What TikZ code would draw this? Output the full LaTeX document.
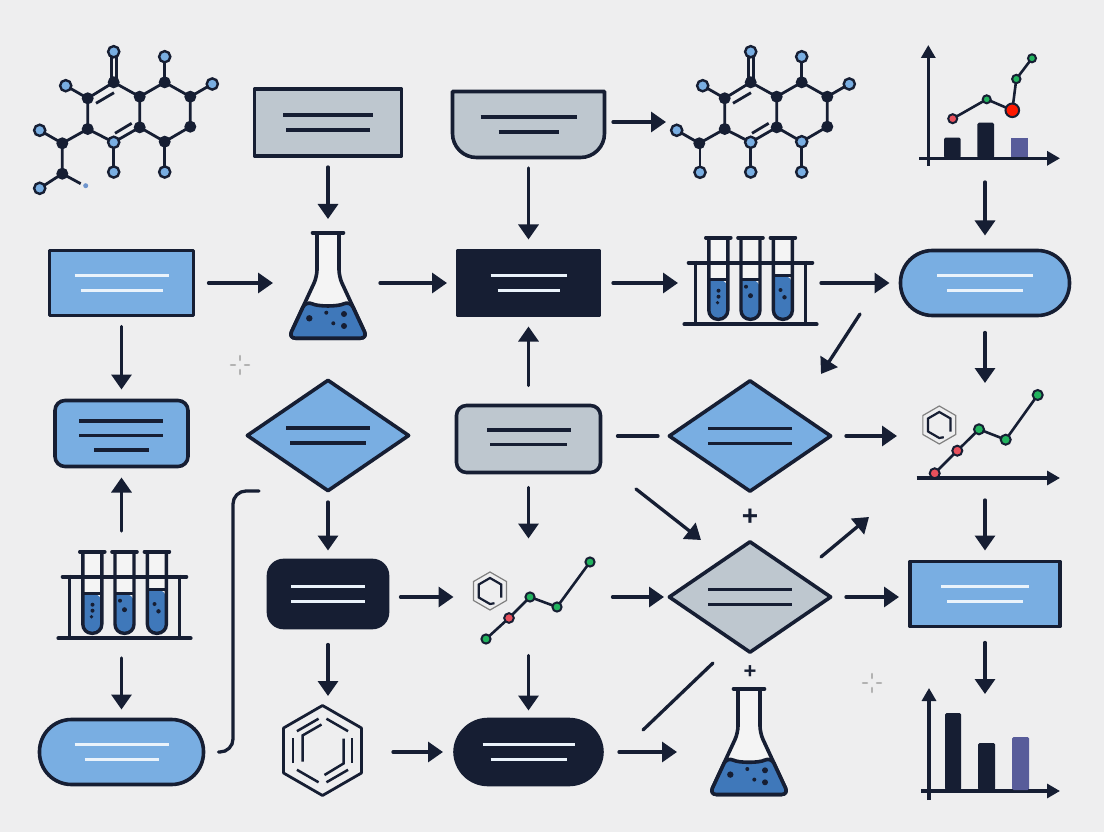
\documentclass[tikz,border=0pt]{standalone}
\usepackage{fontspec}
\setmainfont{Liberation Sans}
\usetikzlibrary{arrows.meta,shapes.geometric}
\definecolor{ink}{HTML}{161E33}
\definecolor{sheet}{HTML}{EEEEEF}
\definecolor{sky}{HTML}{79AEE2}
\definecolor{slate}{HTML}{BEC7CF}
\definecolor{liquid}{HTML}{3F78BA}
\definecolor{violet}{HTML}{585C9A}
\definecolor{glass}{HTML}{F4F4F4}
\definecolor{pale}{HTML}{EAF3FB}
\definecolor{leaf}{HTML}{22B35E}
\definecolor{berry}{HTML}{E8505C}
\tikzset{
  box/.style={rectangle,draw=ink,line width=3.6pt,inner sep=0pt,outer sep=11pt,line join=round},
  gem/.style={diamond,aspect=1.45,draw=ink,line width=3.6pt,inner sep=0pt,outer sep=8pt,line join=round,
    minimum width=168pt,minimum height=117pt},
  spot/.style={inner sep=0pt,outer sep=0pt},
  link/.style={draw=ink,line width=3.3pt,line cap=round,-{Triangle[length=15pt,width=20pt]}},
  wire/.style={draw=ink,line width=3.3pt,line cap=round},
  axis/.style={draw=ink,line width=3.2pt,-{Triangle[length=13pt,width=14pt]}},
  bar/.style={line width=3.8pt},
  bond/.style={draw=ink,line width=2.8pt},
  dark/.style={fill=ink,draw=ink,line width=1.5pt},
  light/.style={fill=sky,draw=ink,line width=2.4pt},
  trend/.style={draw=ink,line width=2.6pt},
  flag/.style={fill=leaf,draw=ink,line width=2pt},
  bad/.style={fill=berry,draw=ink,line width=2pt},
  molecule/.pic={
    \draw[bond] (113.7,82.3) -- (87.7,98.3) -- (87.7,129) -- (113.7,142.3) -- (139.7,127.3)
      -- (139.7,96.7) -- (113.7,82.3);
    \draw[bond] (139.7,96.7) -- (164.7,82.3) -- (190.3,96.7) -- (190.3,126.7) -- (164.7,141.7) -- (139.7,127.3);
    \draw[bond] (96,103.3) -- (114,92.7);
    \draw[bond] (115,133.3) -- (131.7,123.3);
    \draw[bond] (111.2,52) -- (111.2,82);
    \draw[bond] (116.2,52) -- (116.2,82);
    \draw[bond] (164.7,56.7) -- (164.7,82.3);
    \draw[bond] (190.3,96.7) -- (212.3,84);
    \draw[bond] (87.7,98.3) -- (65.7,85.7);
    \draw[bond] (87.7,129) -- (62.3,143.3) -- (39.7,130.3);
    \draw[bond] (113.7,142.3) -- (113.7,172);
    \draw[bond] (164.7,141.7) -- (164.7,172);
    \foreach \x/\y in {113.7/82.3,87.7/98.3,87.7/129,139.7/127.3,139.7/96.7,164.7/82.3,190.3/96.7,190.3/126.7,164.7/141.7,62.3/143.3}
      \draw[dark] (\x,\y) circle (5.2);
    \foreach \x/\y in {113.7/51.7,164.7/56.7,65.7/85.7,212.3/84,39.7/130.3,113.7/172,164.7/172,113.7/142.3}
      \draw[light] (\x,\y) circle (5.6);
  },
  flask/.pic={
    \draw[fill=glass,draw=ink,line width=3.6pt,line join=round,rounded corners=7pt]
      (-11,0) -- (-11,44) -- (-39.5,105.5) -- (39.5,105.5) -- (11,44) -- (11,0);
    \draw[fill=liquid,draw=ink,line width=3.6pt,line join=round,rounded corners=7pt]
      (-39.5,105.5) -- (-22,68) .. controls (-10,74) and (10,74) .. (22,68) -- (39.5,105.5) -- cycle;
    \draw[ink,line width=3.6pt,line cap=round] (-15.5,0) -- (15.5,0);
    \foreach \x/\y/\r in {-18.7/85.6/3.2,-1.7/80/2,16/81.3/3,5.3/90.6/2,16/93.3/3}
      \fill[ink] (\x,\y) circle (\r);
  },
  tubes/.pic={
    \draw[ink,line width=3.6pt] (-55,23) -- (-55,86.6);
    \draw[ink,line width=3.6pt] (55,23) -- (55,86.6);
    \foreach \x/\h in {-32.2/42,0/42,32.4/38} {
      \begin{scope}[xshift=\x]
        \fill[glass] (-9.5,0) -- (-9.5,50) -- (9.5,50) -- (9.5,0) -- cycle;
        \fill[liquid,rounded corners=9pt] (-9.5,\h) -- (-9.5,81.6) -- (9.5,81.6) -- (9.5,\h) [sharp corners] -- cycle;
        \draw[ink,line width=2.5pt] (-9.5,\h) -- (9.5,\h);
        \draw[ink,line width=3.4pt,rounded corners=9pt] (-9.5,0) -- (-9.5,81.6) -- (9.5,81.6) -- (9.5,0);
        \draw[ink,line width=3.6pt,line cap=round] (-12.5,0) -- (12.5,0);
      \end{scope}
    }
    \draw[ink,line width=3.6pt,line cap=round] (-62,25) -- (62,25);
    \draw[ink,line width=4.2pt,line cap=round] (-66,86.6) -- (66,86.6);
    \foreach \x/\y/\r in {-32/53/2,-32/59/2,-33/65/1.8,-4.5/49/2,0/58/2.5,30/52.3/2,34/59.6/2.2}
      \fill[ink] (\x,\y) circle (\r);
  },
  benzene/.pic={
    \draw[ink,line width=2.8pt,line join=round] (90:45) -- (150:45) -- (210:45) -- (270:45) -- (330:45) -- (30:45) -- cycle;
    \foreach \a in {0,60,...,300}
      \draw[ink,line width=2.5pt,rotate=\a] (29.5,-12.5) -- (29.5,12.5);
    \draw[ink,line width=2.5pt] (-20,11) -- (-20,-15) -- (-1,-26);
    \draw[ink,line width=2.5pt] (21,-12) -- (21,13) -- (2,24.5);
  },
  smallring/.pic={
    \draw[gray,line width=1.2pt] (90:19) -- (150:19) -- (210:19) -- (270:19) -- (330:19) -- (30:19) -- cycle;
    \draw[ink,line width=2.2pt] (30:13) -- (-30:13) -- (-90:13) -- (-150:13) -- (150:13) -- (90:13) -- (70:13);
  },
  spark/.pic={
    \foreach \a in {0,90,180,270}
      \draw[black!30,line width=2.6pt,line cap=round,rotate=\a] (5,0) -- (9,0);
  }
}
% box captions are drawn as short strokes
\newcommand{\bars}[4]{
  \draw[#4,bar] ([xshift=-#2 pt,yshift=7.5pt]#1.center) -- ([xshift=#2 pt,yshift=7.5pt]#1.center);
  \draw[#4,bar] ([xshift=-#3 pt,yshift=-7.5pt]#1.center) -- ([xshift=#3 pt,yshift=-7.5pt]#1.center);
}
\begin{document}
\begin{tikzpicture}[x=1pt,y=-1pt]
  \useasboundingbox (0,0) rectangle (1104,832);
  \fill[sheet] (0,0) rectangle (1104,832);

  % boxes
  \node[box,fill=slate,minimum width=147pt,minimum height=67pt] (sample) at (328,122.5) {};
  \node[spot,outer xsep=7pt,outer ysep=9pt,minimum width=155pt,minimum height=69pt] (batch) at (528.5,124.5) {};
  \draw[draw=ink,fill=slate,line width=3.6pt,line join=round] (452.5,91.5) -- (604.5,91.5) [rounded corners=24pt] -- (604.5,157.5) -- (452.5,157.5) [sharp corners] -- cycle;
  \node[box,fill=sky,minimum width=144pt,minimum height=65pt] (input) at (121.5,283) {};
  \node[box,fill=ink,minimum width=141pt,minimum height=65pt] (core) at (528.5,283) {};
  \node[box,fill=sky,rounded corners=32pt,minimum width=169pt,minimum height=65pt,outer ysep=15pt] (output) at (985,283) {};
  \node[box,fill=sky,rounded corners=10pt,minimum width=133pt,minimum height=66pt] (buffer) at (121.5,433.5) {};
  \node[gem,fill=sky] (choiceA) at (328,435.5) {};
  \node[box,fill=slate,rounded corners=10pt,minimum width=144pt,minimum height=67pt,outer xsep=17pt,outer ysep=15pt] (gate) at (528.5,439) {};
  \node[gem,fill=sky] (choiceB) at (750,436) {};
  \node[box,fill=ink,rounded corners=15pt,minimum width=119pt,minimum height=67pt,outer xsep=13pt,outer ysep=10pt] (step) at (328,594) {};
  \node[gem,fill=slate] (choiceC) at (750,597) {};
  \node[box,fill=sky,minimum width=150pt,minimum height=65pt] (result) at (985,594) {};
  \node[box,fill=sky,rounded corners=32pt,minimum width=164pt,minimum height=65pt,outer xsep=15pt,outer ysep=10pt] (feed) at (121.5,752) {};
  \node[box,fill=ink,rounded corners=33pt,minimum width=147pt,minimum height=65pt,outer xsep=12pt,outer ysep=9pt] (final) at (528.5,752) {};

  \bars{sample}{45}{42}{ink}
  \bars{batch}{48}{30}{ink}
  \bars{input}{47}{41}{pale}
  \bars{core}{38}{31}{pale}
  \bars{output}{48}{38}{pale}
  \draw[ink,bar] (79,421) -- (163,421);
  \draw[ink,bar] (79,435.5) -- (163,435.5);
  \draw[ink,bar] (94,450) -- (149,450);
  \bars{choiceA}{42}{38}{ink}
  \draw[ink,bar] (487,430) -- (571,430);
  \draw[ink,bar] (490,444.5) -- (567,444.5);
  \bars{choiceB}{42}{42}{ink}
  \bars{step}{37}{37}{pale}
  \bars{choiceC}{42}{42}{ink}
  \bars{result}{44}{38}{pale}
  \bars{feed}{47}{37}{pale}
  \bars{final}{46}{38}{pale}

  % icons
  \pic at (0,0) {molecule};
  \draw[bond] (62.3,143.3) -- (62.3,173.7) -- (39.7,188.3);
  \draw[bond] (62.3,173.7) -- (80.7,183.7);
  \draw[dark] (62.3,173.7) circle (5.2);
  \draw[light] (39.7,188.3) circle (5.6);
  \fill[sky!70!violet] (85.7,185.7) circle (2.5);

  \pic at (637,0) {molecule};
  \draw[bond] (700,143.3) -- (700,172.3);
  \draw[light] (700,172.3) circle (5.6);
  \draw[light] (801.7,141.7) circle (5.6);

  \pic at (328,232.7) {flask};
  \pic at (749,689) {flask};
  \pic at (750.5,237.7) {tubes};
  \pic at (124.5,551.7) {tubes};
  \pic at (322.5,750.5) {benzene};
  \pic at (939.3,425) {smallring};
  \pic at (490,591) {smallring};
  \pic at (240,365) {spark};
  \pic at (872,683) {spark};

  % placeholders the arrows run to
  \node[spot,minimum width=104pt,minimum height=128pt] (flaskA) at (328,283) {};
  \node[spot,minimum width=143pt,minimum height=90pt] (rackA) at (749.5,283) {};
  \node[spot,minimum width=107pt,minimum height=127pt] (rackB) at (121.5,594.5) {};
  \node[spot,minimum width=110pt,minimum height=120pt] (flaskB) at (732,752) {};
  \node[spot,minimum width=120pt,minimum height=80pt] (moleculeB) at (726,122) {};
  \node[spot,minimum width=130pt,minimum height=112pt] (ringA) at (328,752) {};
  \node[spot,minimum width=150pt,minimum height=117pt] (plotC) at (528.5,597) {};
  \node[spot,minimum width=176pt,minimum height=106pt] (plotB) at (985,436) {};
  \node[spot,minimum width=100pt,minimum height=124pt] (plotA) at (985,120) {};
  \node[spot,minimum width=100pt,minimum height=106pt] (plotD) at (985,747) {};
  \coordinate (slashA) at (860,314);
  \coordinate (slashB) at (821,374);
  \coordinate (crossA) at (636,489);
  \coordinate (crossB) at (701,540);
  \coordinate (riseA) at (821,557);
  \coordinate (riseB) at (869,517);
  \coordinate (fallA) at (713,663);
  \coordinate (fallB) at (643,730);
  \coordinate (hookA) at (233,752);
  \coordinate (hookB) at (233,491);
  \coordinate (hookC) at (259,491);

  % plot, bars on top and a line above
  \draw[axis] (928.3,166) -- (928.3,45);
  \draw[axis] (919.3,158.3) -- (1060,158.3);
  \fill[ink,rounded corners=1.5pt] (944,158) -- (944,137.7) -- (960.7,137.7) -- (960.7,158) -- cycle;
  \fill[ink,rounded corners=1.5pt] (977.3,158) -- (977.3,122.7) -- (994,122.7) -- (994,158) -- cycle;
  \fill[violet] (1011,157) -- (1011,137.7) -- (1027.7,137.7) -- (1027.7,157) -- cycle;
  \draw[trend] (952.7,118.7) -- (986.7,99.3) -- (1012.3,110.3) -- (1016.3,79) -- (1032,58.3);
  \draw[bad] (952.7,118.7) circle (4.5);
  \draw[flag] (986.7,99.3) circle (4);
  \draw[fill=red!80!orange,draw=ink,line width=2pt] (1012.3,110.3) circle (6.8);
  \draw[flag] (1016.3,79) circle (4.2);
  \draw[flag] (1032,58.3) circle (4);

  % plot with one axis
  \draw[axis] (916.7,478) -- (1060,478);
  \draw[trend] (934.7,473.3) -- (957.3,450.7) -- (979,429.3) -- (1005.7,439.7) -- (1037.7,395);
  \draw[bad] (934.7,473.3) circle (5);
  \draw[bad] (957.3,450.7) circle (5);
  \foreach \x/\y in {979/429.3,1005.7/439.7,1037.7/395}
    \draw[flag] (\x,\y) circle (5);

  % line only
  \draw[trend] (486,639) -- (509,618) -- (530,597) -- (557,607) -- (590,562);
  \draw[bad] (509,618) circle (4.8);
  \foreach \x/\y in {486/639,530/597,557/607,590/562}
    \draw[flag] (\x,\y) circle (4.6);

  % last bars
  \draw[axis] (929,800) -- (929,688);
  \draw[axis] (921,791) -- (1060,791);
  \fill[ink,rounded corners=1.5pt] (945,790) -- (945,713) -- (961,713) -- (961,790) -- cycle;
  \fill[ink,rounded corners=1.5pt] (978,790) -- (978,743) -- (995,743) -- (995,790) -- cycle;
  \fill[violet,rounded corners=1.5pt] (1012,790) -- (1012,737) -- (1029,737) -- (1029,790) -- cycle;

  \node[ink,font=\bfseries\fontsize{28}{28}\selectfont,inner sep=0pt] (plusA) at (750,517) {+};
  \node[ink,font=\bfseries\fontsize{22}{22}\selectfont,inner sep=0pt] (plusB) at (750,672) {+};

  % connectors
  \begin{scope}[link]
    \draw (sample) to (flaskA);
    \draw (batch) to (core);
    \draw ([yshift=2.5pt]batch.east) to (moleculeB);
    \draw (plotA) to (output);
    \draw[shorten <=4pt,shorten >=3pt] (input) to (flaskA);
    \draw (flaskA) to (core);
    \draw[shorten <=3pt] (core) to (rackA);
    \draw (rackA) to (output);
    \draw[shorten <=2pt] (output) to (plotB);
    \draw (input) to (buffer);
    \draw (rackB) to (buffer);
    \draw (rackB) to (feed);
    \draw (choiceA) to (step);
    \draw[shorten <=7pt] (step) to (ringA);
    \draw ([yshift=-3pt]step.east) to (plotC);
    \draw[shorten <=9pt,shorten >=-6pt] (plotC) to (choiceC);
    \draw[shorten <=5pt] (gate) to (core);
    \draw (gate) to (plotC);
    \draw (plotC) to (final);
    \draw (ringA) to (final);
    \draw[shorten <=5pt] (final) to (flaskB);
    \draw[shorten <=4pt] (choiceB) to (plotB);
    \draw (slashA) to (slashB);
    \draw (crossA) to (crossB);
    \draw (riseA) to (riseB);
    \draw[shorten <=4pt] (choiceC) to ([yshift=-3pt]result.west);
    \draw[shorten <=11pt] (plotB) to (result);
    \draw[shorten <=5pt] (result) to (plotD);
  \end{scope}
  \begin{scope}[wire]
    \draw ([yshift=3pt]gate.east) to (choiceB);
    \draw (fallA) to (fallB);
    \draw[rounded corners=13pt] (feed.east) -- (hookA) -- (hookB) -- (hookC);
  \end{scope}
\end{tikzpicture}
\end{document}
